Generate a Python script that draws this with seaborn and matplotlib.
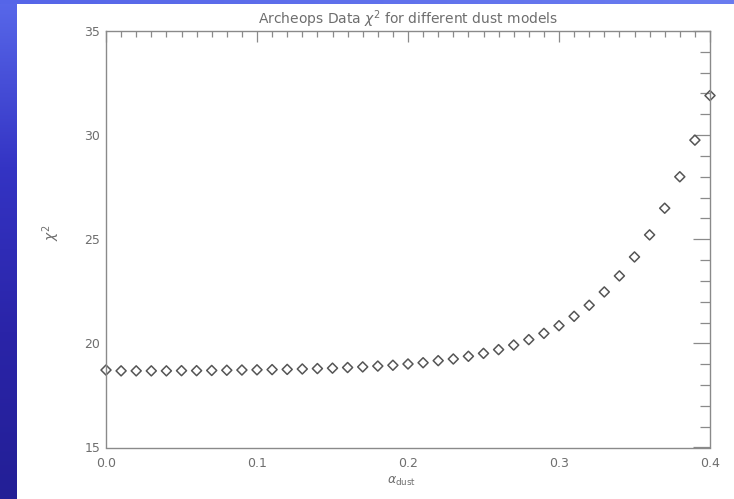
import numpy as np
import matplotlib
matplotlib.use("Agg")
import matplotlib.pyplot as plt
import seaborn as sns
from matplotlib.ticker import MultipleLocator

# chi^2 of Archeops data versus dust spectral index
alpha_dust = [0.00, 0.01, 0.02, 0.03, 0.04, 0.05, 0.06, 0.07, 0.08, 0.09,
              0.10, 0.11, 0.12, 0.13, 0.14, 0.15, 0.16, 0.17, 0.18, 0.19,
              0.20, 0.21, 0.22, 0.23, 0.24, 0.25, 0.26, 0.27, 0.28, 0.29,
              0.30, 0.31, 0.32, 0.33, 0.34, 0.35, 0.36, 0.37, 0.38, 0.39,
              0.40]
chi2 = [18.72, 18.68, 18.68, 18.68, 18.68, 18.69, 18.69, 18.70, 18.71, 18.72,
        18.73, 18.74, 18.75, 18.77, 18.79, 18.81, 18.84, 18.87, 18.91, 18.95,
        19.01, 19.07, 19.17, 19.25, 19.38, 19.52, 19.70, 19.92, 20.18, 20.48,
        20.85, 21.30, 21.83, 22.47, 23.24, 24.15, 25.21, 26.49, 28.00, 29.76,
        31.90]

sns.set_style("white")
plt.rcParams['font.family'] = ['DejaVu Sans']

grey = '#6e6e6e'
fig = plt.figure(figsize=(7.34, 4.99), dpi=100)
fig.patch.set_facecolor('white')

# slide background strips (blue gradient on the left, thin band on top)
grad = np.linspace(0, 1, 256).reshape(-1, 1)
cmap = matplotlib.colors.LinearSegmentedColormap.from_list(
    'slide', ['#5868ea', '#3434c4', '#2a24a8', '#231f96'])
left = fig.add_axes([0, 0, 17 / 734, 1])
left.imshow(grad, aspect='auto', cmap=cmap, extent=[0, 1, 1, 0])
left.axis('off')
top = fig.add_axes([0, 1 - 4 / 499, 1, 4 / 499])
top.imshow(np.linspace(0, 1, 256).reshape(1, -1), aspect='auto',
           cmap=matplotlib.colors.LinearSegmentedColormap.from_list('t', ['#5565e8', '#6a7cf0']))
top.axis('off')

ax = fig.add_axes([106 / 734, 51.5 / 499, 604 / 734, 416.5 / 499])
sns.scatterplot(x=alpha_dust, y=chi2, marker='D', s=26, ax=ax,
                color=grey, linewidth=1.1, clip_on=False)
pts = ax.collections[0]
pts.set_facecolor('none')
pts.set_edgecolor('#555555')

ax.set_xlim(0, 0.4)
ax.set_ylim(15, 35)
ax.xaxis.set_major_locator(MultipleLocator(0.1))
ax.xaxis.set_minor_locator(MultipleLocator(0.01))
ax.yaxis.set_major_locator(MultipleLocator(5))
ax.yaxis.set_minor_locator(MultipleLocator(1))
ax.xaxis.set_major_formatter(matplotlib.ticker.FormatStrFormatter('%.1f'))

for s in ax.spines.values():
    s.set_color('#8a8a8a')
    s.set_linewidth(1.0)
ax.tick_params(axis='both', which='both', direction='in', top=True, right=True,
               color='#8a8a8a', labelcolor=grey, labelsize=9, width=0.9)
ax.tick_params(axis='x', which='major', length=8, pad=7)
ax.tick_params(axis='x', which='minor', length=4)
ax.tick_params(axis='y', which='major', length=12, pad=4)
ax.tick_params(axis='y', which='minor', length=7)

ax.set_title(r'Archeops Data $\chi^2$ for different dust models',
             color=grey, fontsize=10, pad=5)
ax.set_xlabel(r'$\alpha_{\rm dust}$', color=grey, fontsize=9)
ax.set_ylabel(r'$\chi^2$', color=grey, fontsize=10)
ax.xaxis.set_label_coords(0.49, -0.065)
ax.yaxis.set_label_coords(-0.073, 0.517)

fig.savefig('out.png', dpi=100)
